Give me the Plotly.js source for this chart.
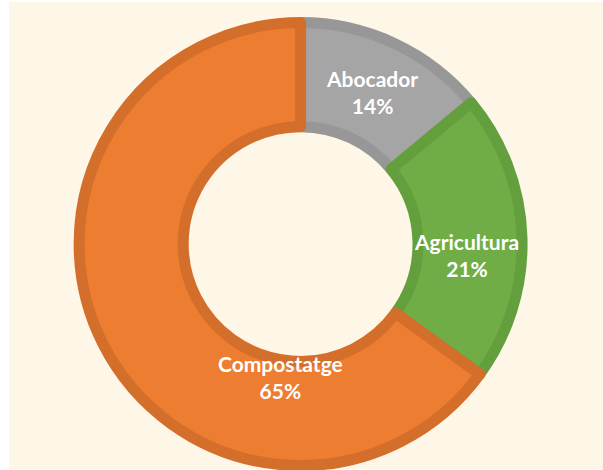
<!DOCTYPE html>
<html>
<head>
<meta charset="utf-8">
<script src="https://cdn.plot.ly/plotly-3.0.1.min.js"></script>
<style>
  html, body { margin: 0; padding: 0; background: #ffffff; }
  #chart { width: 603px; height: 470px; }
</style>
</head>
<body>
<div id="chart"></div>
<script>
// Data
const categories = ["Abocador", "Agricultura", "Compostatge"];
const shares = [14, 21, 65];

// Styling (kept separate from data)
const fillColors = ["#A5A5A5", "#70AD47", "#ED7D31"];
const borderColors = ["#979797", "#63A03D", "#D46E2B"];
// label positions in paper coordinates (layout, not data)
const labelX = [0.617, 0.774, 0.466];
const labelY = [0.805, 0.458, 0.197];

const trace = {
  type: "pie",
  labels: categories,
  values: shares,
  sort: false,
  direction: "clockwise",
  rotation: 0,
  hole: 0.53,
  textinfo: "none",
  hoverinfo: "label+percent",
  marker: {
    colors: fillColors,
    line: { color: borderColors, width: 11 }
  },
  domain: { x: [0.131, 0.866], y: [0.0096, 0.952] },
  showlegend: false
};

const annotations = categories.map((c, i) => ({
  xref: "paper", yref: "paper",
  x: labelX[i], y: labelY[i],
  xanchor: "center", yanchor: "middle",
  text: "<b>" + c + "</b><br><b>" + shares[i] + "%</b>",
  showarrow: false,
  align: "center",
  font: { family: "Lato, 'Open Sans', sans-serif", size: 21, color: "#ffffff" }
}));

const layout = {
  width: 603,
  height: 470,
  margin: { l: 0, r: 0, t: 0, b: 0 },
  paper_bgcolor: "#ffffff",
  showlegend: false,
  shapes: [{
    type: "rect", xref: "paper", yref: "paper",
    x0: 9 / 603, x1: 1, y0: 1 / 470, y1: 468 / 470,
    fillcolor: "#FEF6E6", line: { width: 0 }, layer: "below"
  }],
  annotations: annotations
};

Plotly.newPlot("chart", [trace], layout, { displayModeBar: false, staticPlot: true });
</script>
</body>
</html>
